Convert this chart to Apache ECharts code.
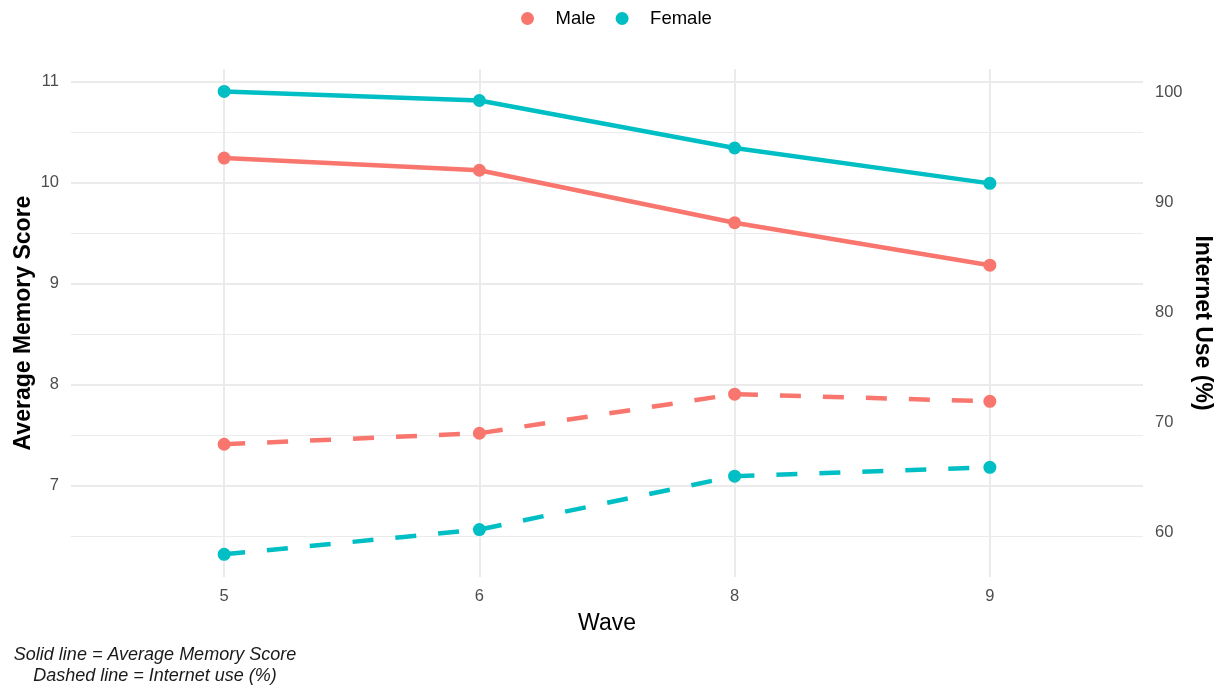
<!DOCTYPE html>
<html><head><meta charset="utf-8">
<script src="https://cdn.jsdelivr.net/npm/echarts@6/dist/echarts.min.js"></script>
<style>html,body{margin:0;padding:0;background:#fff}#c{width:1220px;height:686px}</style>
</head><body><div id="c"></div>
<script>
// ---- data ----
const waves = ['5', '6', '8', '9'];
const maleMemory = [10.24, 10.12, 9.60, 9.18];
const femaleMemory = [10.90, 10.81, 10.34, 9.99];
const maleInternet = [68.0, 69.0, 72.55, 71.9];
const femaleInternet = [58.0, 60.25, 65.1, 65.9];
const memoryTicks = [7, 8, 9, 10, 11];
const memoryMinorTicks = [6.5, 7.5, 8.5, 9.5, 10.5];
const internetTicks = [60, 70, 80, 90, 100];
const memoryRange = [6.094, 11.122];
const internetRange = [55.94, 102.09];
const xRange = [-0.6, 3.6];
const captionLines = ['Solid line = Average Memory Score', 'Dashed line = Internet use (%)'];

// ---- style ----
const MALE = '#F8766D', FEMALE = '#00BFC4';
const FONT = '"Liberation Sans", Arial, sans-serif';
const GRID = '#EBEBEB';
const waveIdx = waves.map((w, i) => i);
const pts = vals => vals.map((v, i) => [i, v]);

const chart = echarts.init(document.getElementById('c'), null, {renderer: 'canvas'});

function lineSeries(name, color, vals, yIdx, dashed) {
  return {
    name: name, type: 'line', xAxisIndex: 0, yAxisIndex: yIdx,
    data: pts(vals), symbol: 'circle', symbolSize: 13, showSymbol: true,
    lineStyle: {width: 4.5, color: color, type: dashed ? [21, 22] : 'solid', cap: 'butt'},
    itemStyle: {color: color}, emphasis: {disabled: true}, z: 3
  };
}

chart.setOption({
  animation: false,
  backgroundColor: '#fff',
  textStyle: {fontFamily: FONT},
  title: {
    text: captionLines.join('\n'), left: 150, top: 639, textAlign: 'center',
    textStyle: {fontFamily: FONT, fontStyle: 'italic', fontWeight: 'normal', fontSize: 18, lineHeight: 21, color: '#1a1a1a'}
  },
  legend: {
    data: [{name: 'Male', icon: 'circle'}, {name: 'Female', icon: 'circle'}],
    left: 516, top: 4, itemWidth: 46, itemHeight: 13, itemGap: 20,
    textStyle: {fontFamily: FONT, fontSize: 18.5, color: '#000'}
  },
  grid: {left: 71, right: 77, top: 69, bottom: 109, containLabel: false, outerBoundsMode: 'none'},
  xAxis: {
    type: 'value', min: xRange[0], max: xRange[1],
    name: 'Wave', nameLocation: 'middle', nameGap: 35, nameMoveOverlap: false,
    nameTextStyle: {fontFamily: FONT, fontSize: 23, color: '#000'},
    axisLine: {show: false}, axisTick: {show: false, customValues: waveIdx},
    axisLabel: {customValues: waveIdx, formatter: v => waves[Math.round(v)], margin: 11,
      fontFamily: FONT, fontSize: 16.5, color: '#4D4D4D'},
    splitLine: {show: true, lineStyle: {color: GRID, width: 2}}
  },
  yAxis: [
    {
      type: 'value', position: 'left', min: memoryRange[0], max: memoryRange[1],
      name: 'Average Memory Score', nameLocation: 'middle', nameGap: 35.5, nameRotate: 90, nameMoveOverlap: false,
      nameTextStyle: {fontFamily: FONT, fontSize: 23, fontWeight: 'bold', color: '#000'},
      axisLine: {show: false}, axisTick: {show: false, customValues: memoryTicks},
      axisLabel: {customValues: memoryTicks, margin: 12, fontFamily: FONT, fontSize: 16.5, color: '#4D4D4D'},
      splitLine: {show: true, lineStyle: {color: GRID, width: 2}}
    },
    {
      type: 'value', position: 'right', min: internetRange[0], max: internetRange[1],
      name: 'Internet Use (%)', nameLocation: 'middle', nameGap: 47.5, nameRotate: -90, nameMoveOverlap: false,
      nameTextStyle: {fontFamily: FONT, fontSize: 23, fontWeight: 'bold', color: '#000'},
      axisLine: {show: false}, axisTick: {show: false, customValues: internetTicks},
      axisLabel: {customValues: internetTicks, margin: 12, fontFamily: FONT, fontSize: 16.5, color: '#4D4D4D'},
      splitLine: {show: false}
    },
    {
      type: 'value', position: 'left', min: memoryRange[0], max: memoryRange[1],
      axisLine: {show: false}, axisTick: {show: false, customValues: memoryMinorTicks},
      axisLabel: {show: false},
      splitLine: {show: true, lineStyle: {color: GRID, width: 1}}
    }
  ],
  series: [
    lineSeries('Male', MALE, maleMemory, 0, false),
    lineSeries('Female', FEMALE, femaleMemory, 0, false),
    lineSeries('Male', MALE, maleInternet, 1, true),
    lineSeries('Female', FEMALE, femaleInternet, 1, true)
  ]
});
</script>
</body></html>
